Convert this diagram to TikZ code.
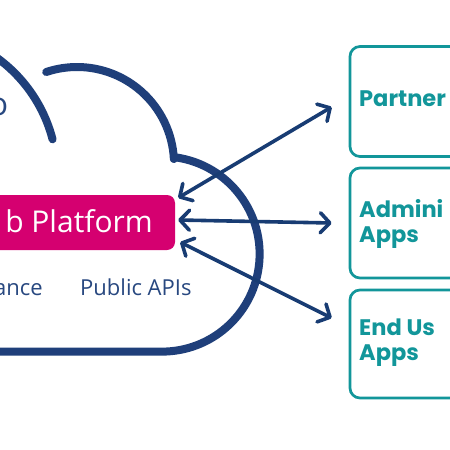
\documentclass[tikz,border=0pt]{standalone}
\usepackage{fontspec}
\setmainfont{Open Sans}
\newfontfamily\appfont{Poppins}
\usetikzlibrary{arrows.meta}
\definecolor{cloudblue}{RGB}{31,63,122}
\definecolor{arrowblue}{RGB}{24,60,115}
\definecolor{magentab}{RGB}{213,0,112}
\definecolor{tealb}{RGB}{18,150,154}
\definecolor{textblue}{RGB}{40,72,128}
\begin{document}
\begin{tikzpicture}[x=1pt,y=-1pt,
  cloudline/.style={draw=cloudblue, line width=8pt, line cap=round, line join=round},
  platbox/.style={fill=magentab, rounded corners=8pt, minimum width=230pt, minimum height=55pt, inner sep=0pt},
  plattext/.style={text=white, font=\fontsize{30}{36}\selectfont, anchor=base east, inner sep=0pt},
  appbox/.style={draw=tealb, line width=2.7pt, rounded corners=10pt, minimum width=130pt, inner sep=0pt},
  apptext/.style={text=tealb, font=\appfont\fontsize{22.5}{25}\selectfont\bfseries, anchor=base west, inner sep=0pt, align=left},
  bluetext/.style={text=textblue, font=\fontsize{22}{26}\selectfont, inner sep=0pt},
  arr/.style={draw=arrowblue, line width=3.6pt, line cap=round,
    {Straight Barb[round,length=9.5pt,width=20pt]}-{Straight Barb[round,length=9.5pt,width=20pt]}}
]
\useasboundingbox (0,0) rectangle (450,450);
\clip (0,0) rectangle (450,450);
\fill[white] (0,0) rectangle (450,450);

% cloud outline
\draw[cloudline] (-88.5,175.8) ++(-70:145.7) arc[start angle=-70, end angle=-14.5, radius=145.7];
\draw[cloudline] (77,164) ++(-108.5:97) arc[start angle=-108.5, end angle=-3, radius=97]
  -- (175.6,157.35) arc[start angle=-82, end angle=90, radius=97.6] -- (-30,351.6);

% partial title letter
\node[bluetext, font=\fontsize{32}{36}\selectfont, anchor=base east] (titleo) at (8.5,115) {o};

% platform box
\node[platbox] (plat) at (60,222.5) {};
\node[plattext] (plattxt) at (153,232) {b Platform};

% labels below
\node[bluetext, anchor=base east] (gov) at (43,295) {ance};
\node[bluetext, anchor=base west] (apis) at (80,295) {Public APIs};

% app boxes
\node[appbox, minimum height=110pt] (partner) at (415,101.5) {};
\node[appbox, minimum height=110pt] (admin) at (415,223) {};
\node[appbox, minimum height=108pt] (enduser) at (415,344) {};

\node[apptext] (partnertxt) at (359,106) {Partner};
\node[apptext] (admintxt) at (359,242) {Admini\\Apps};
\node[apptext] (endtxt) at (359,360) {End Us\\Apps};

% arrow end points
\coordinate (a1s) at ([shift={(3,3)}]plat.north east);
\coordinate (a1e) at ([shift={(-17,5.5)}]partner.west);
\coordinate (a2s) at ([shift={(3,-2.5)}]plat.east);
\coordinate (a2e) at ([shift={(-17,0)}]admin.west);
\coordinate (a3s) at ([shift={(5,-8)}]plat.south east);
\coordinate (a3e) at ([shift={(-17,-26)}]enduser.west);

\draw[arr] (a1s) -- (a1e);
\draw[arr] (a2s) -- (a2e);
\draw[arr] (a3s) -- (a3e);
\end{tikzpicture}
\end{document}
